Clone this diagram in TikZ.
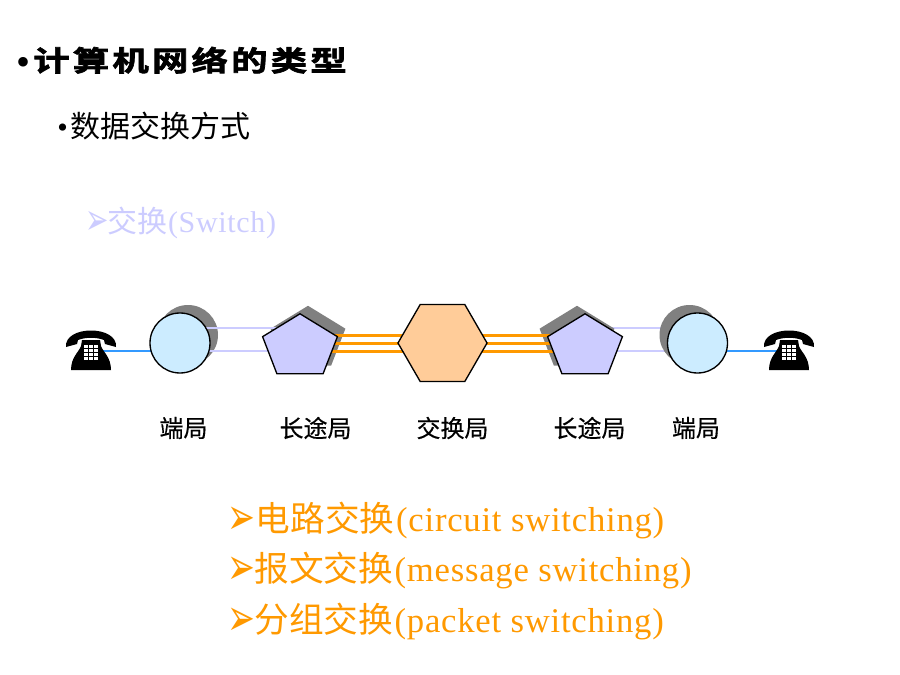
\documentclass[tikz,border=0pt]{standalone}
\usepackage{fontspec}
\usepackage{graphicx}
\usepackage{xcolor}
\usetikzlibrary{shapes.geometric,backgrounds}
\setmainfont{Liberation Serif}
\newfontfamily\cjkfont{Noto Sans CJK SC}
\newfontfamily\labelfont[FakeBold=0.4]{Noto Sans CJK SC}
\newfontfamily\titlefont[LetterSpace=11.4,FakeStretch=1.3,FakeBold=2.5]{Noto Sans CJK SC Bold}
\newfontfamily\dingfont{DejaVu Sans}
\newfontfamily\wideserif[LetterSpace=2.2]{Liberation Serif}
\newcommand{\kindarrow}[1]{\makebox[#1][l]{\raisebox{-2.5pt}{\scalebox{1}[1.55]{\dingfont\fontsize{25pt}{28pt}\selectfont ➢}}}}
\definecolor{switchblue}{HTML}{CCCCFF}
\definecolor{stationblue}{HTML}{CCECFF}
\definecolor{hexorange}{HTML}{FFCC99}
\definecolor{textorange}{HTML}{FF9900}
\definecolor{wireblue}{HTML}{3399FF}
\definecolor{shadowgray}{HTML}{808080}

\begin{document}
\begin{tikzpicture}[
        x=0.75pt, y=-0.75pt,
        station/.style={circle, draw, line width=1pt, fill=stationblue, minimum size=45pt, inner sep=0pt},
        tollbox/.style={regular polygon, regular polygon sides=5, draw, line width=1pt, fill=switchblue,
            minimum size=59pt, inner sep=0pt, yscale=0.842, transform shape},
        exchange/.style={regular polygon, regular polygon sides=6, draw, line width=1pt, fill=hexorange,
            minimum size=66.8pt, inner sep=0pt},
        stationshadow/.style={circle, fill=shadowgray, minimum size=45pt, inner sep=0pt},
        tollshadow/.style={regular polygon, regular polygon sides=5, fill=shadowgray,
            minimum size=59pt, inner sep=0pt, yscale=0.842, transform shape},
        stationlabel/.style={font=\labelfont\fontsize{18pt}{20pt}\selectfont, inner sep=0pt},
        bullet/.style={anchor=base west, inner sep=0pt},
        kind/.style={anchor=base west, inner sep=0pt, text=textorange, font=\fontsize{26pt}{28pt}\selectfont},
        trunk/.style={textorange, line width=2.25pt},
        tollwire/.style={switchblue, line width=2pt},
        userwire/.style={wireblue, line width=1pt},
        telephone/.pic={
            % handset, body and keypad
            \fill (-25,-2) .. controls (-27,-24) and (27,-24) .. (25,-2) -- (14,-5) -- (13,-9)
                .. controls (5,-12) and (-5,-12) .. (-13,-9) -- (-14,-5) -- cycle;
            \fill (-9,-9) -- (9,-9) -- (10,-3) .. controls (12,3) and (20,8) .. (20,21)
                -- (-20,21) .. controls (-20,8) and (-12,3) .. (-10,-3) -- cycle;
            \foreach \col in {-7,-2,3} {
                \foreach \row in {-4,0,4,8} {
                    \fill[white] (\col,\row) rectangle +(3.6,3);
                }
            }
        }
    ]
        \useasboundingbox (0,0) rectangle (900,675);

        % Headings
        \node[bullet] (title) at (16,71)
            {\makebox[12.75pt][l]{\raisebox{-3pt}{\fontsize{30pt}{24pt}\selectfont •}}\fontsize{21pt}{24pt}\selectfont\titlefont 计算机网络的类型};
        \node[bullet] (subtitle) at (57,137)
            {\fontsize{22.5pt}{24pt}\selectfont\makebox[9.75pt][l]{•}\cjkfont 数据交换方式};
        \node[bullet, text=switchblue] (switch) at (85,232)
            {\makebox[16.5pt][l]{\raisebox{-2pt}{\scalebox{1}[1.55]{\dingfont\fontsize{21pt}{24pt}\selectfont ➢}}}%
            \fontsize{22.5pt}{24pt}\selectfont{\cjkfont 交换}\kern0.6pt\wideserif (Switch)};

        % Stations
        \node[station] (endl) at (180,343) {};
        \node[tollbox] (tolll) at (300,346.9) {};
        \node[exchange] (hub) at (442.5,343) {};
        \node[tollbox] (tollr) at (585,346.9) {};
        \node[station] (endr) at (697.5,343) {};
        \coordinate (phonel) at (91,349);
        \coordinate (phoner) at (789,349);
        \pic at (phonel) {telephone};
        \pic at (phoner) {telephone};

        % Wires and shadows go behind the stations
        \begin{scope}[on background layer]
            \draw[tollwire] ([yshift=11.25pt]endr.center -| tollr.center) -- ([yshift=11.25pt]endr.center);
            \draw[tollwire] ([yshift=-6pt]endr.center -| tollr.center) -- ([yshift=-6pt]endr.center);
            \node[stationshadow] (endlshadow) at (188,335) {};
            \node[tollshadow] (olshadow) at (308,338.9) {};
            \node[tollshadow] (orshadow) at (577,338.9) {};
            \node[stationshadow] (endrshadow) at (689.5,335) {};
            \draw[tollwire] ([yshift=11.25pt]endl.center) -- ([yshift=11.25pt]endl.center -| tolll.center);
            \draw[tollwire] ([yshift=-6pt]endl.center) -- ([yshift=-6pt]endl.center -| tolll.center);
            \foreach \off in {6,0,-6} {
                \draw[trunk] ([yshift=\off pt]hub.center) -- ([yshift=\off pt]hub.center -| tolll.center);
                \draw[trunk] ([yshift=\off pt]hub.center) -- ([yshift=\off pt]hub.center -| tollr.center);
            }
            \draw[userwire] ([yshift=-6pt]endl.center) -- ([yshift=-6pt]endl.center -| phonel);
            \draw[userwire] ([yshift=-6pt]endr.center) -- ([yshift=-6pt]endr.center -| phoner);
        \end{scope}

        % Labels
        \node[stationlabel] (endlabell) at (183.5,428) {端局};
        \node[stationlabel] (tolllabell) at (315.5,428) {长途局};
        \node[stationlabel] (hublabel) at (452.5,428) {交换局};
        \node[stationlabel] (tolllabelr) at (589.5,428) {长途局};
        \node[stationlabel] (endlabelr) at (696,428) {端局};

        % Kinds of switching
        \node[kind] (circuit) at (227,531)
            {\kindarrow{21.5pt}{\cjkfont 电路交换}\kern1.2pt\wideserif (circuit switching)};
        \node[kind] (message) at (227,581)
            {\kindarrow{20.3pt}{\cjkfont 报文交换}\kern1.2pt\wideserif (message switching)};
        \node[kind] (packet) at (227,632)
            {\kindarrow{20.3pt}{\cjkfont 分组交换}\kern1.2pt\wideserif (packet switching)};
\end{tikzpicture}
\end{document}
